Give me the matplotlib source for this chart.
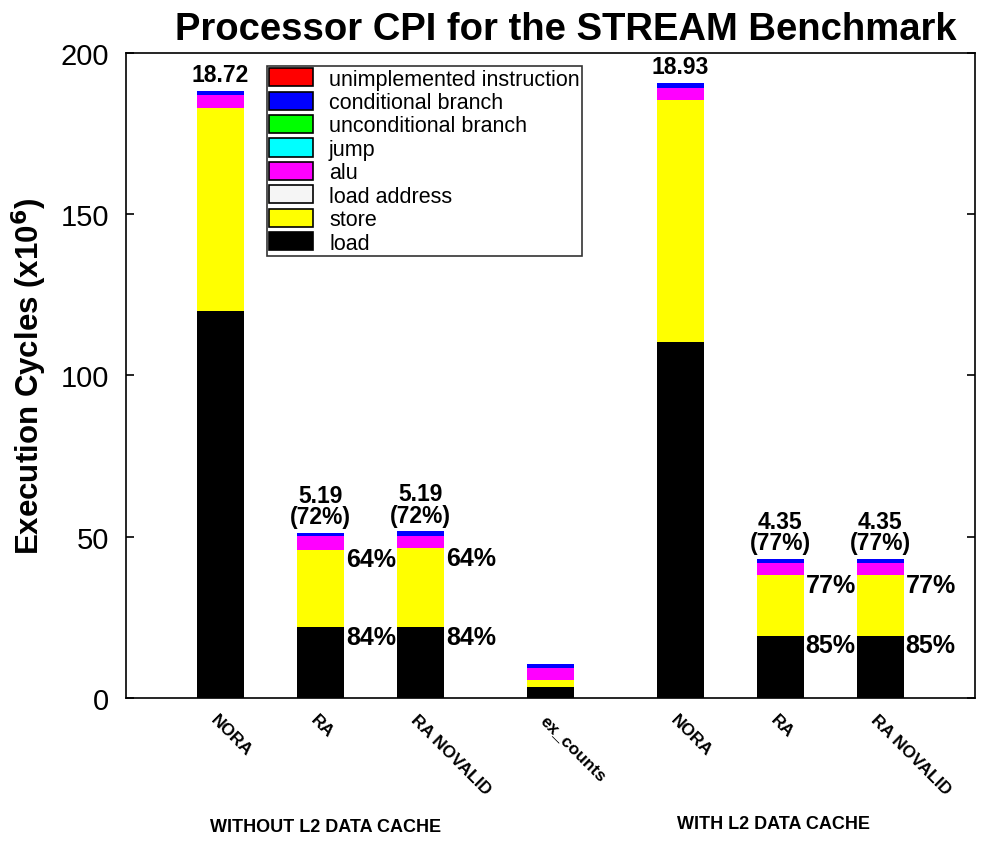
import numpy as np
import matplotlib.pyplot as plt

plt.rcParams['font.family'] = ['Liberation Sans', 'DejaVu Sans']

# bar labels and positions along the x axis
labels = ['NORA', 'RA', 'RA NOVALID', 'ex_counts', 'NORA', 'RA', 'RA NOVALID']
xpos = [0, 1, 2, 3.3, 4.6, 5.6, 6.6]

# segment heights (x10^6 cycles), bottom to top
load = [120, 22, 22, 3.5, 110.5, 19.3, 19.3]
store = [63, 24, 24.5, 1.9, 75, 18.7, 18.7]
load_address = [0, 0, 0, 0, 0, 0, 0]
alu = [4, 4.2, 3.7, 3.9, 3.6, 3.9, 3.9]
jump = [0, 0, 0, 0, 0, 0, 0]
uncond_branch = [0, 0, 0, 0, 0, 0, 0]
cond_branch = [1.3, 1.0, 1.4, 1.2, 1.7, 1.3, 1.3]
unimpl = [0, 0, 0, 0, 0, 0, 0]

series = [
    ('load', load, 'black'),
    ('store', store, 'yellow'),
    ('load address', load_address, 'whitesmoke'),
    ('alu', alu, 'magenta'),
    ('jump', jump, 'cyan'),
    ('unconditional branch', uncond_branch, 'lime'),
    ('conditional branch', cond_branch, 'blue'),
    ('unimplemented instruction', unimpl, 'red'),
]

# annotations
top_labels = ['18.72', '5.19\n(72%)', '5.19\n(72%)', '', '18.93', '4.35\n(77%)', '4.35\n(77%)']
store_pct = ['', '64%', '64%', '', '', '77%', '77%']
load_pct = ['', '84%', '84%', '', '', '85%', '85%']

fig = plt.figure(figsize=(9.81, 8.45), dpi=100)
ax = fig.add_axes([0.128, 0.173, 0.866, 0.763])

width = 0.47
bottom = np.zeros(len(xpos))
for name, vals, color in series:
    vals = np.array(vals, dtype=float)
    ax.bar(xpos, vals, width, bottom=bottom, color=color, linewidth=0)
    bottom += vals

for i, x in enumerate(xpos):
    if top_labels[i]:
        ax.text(x, bottom[i] + 1.5, top_labels[i], ha='center', va='bottom',
                fontsize=16.5, fontweight='bold', linespacing=0.9)
    if store_pct[i]:
        ax.text(x + width / 2 + 0.02, load[i] + store[i] - 3, store_pct[i],
                ha='left', va='center', fontsize=18, fontweight='bold')
        ax.text(x + width / 2 + 0.02, load[i] - 3, load_pct[i],
                ha='left', va='center', fontsize=18, fontweight='bold')

ax.set_xlim(-0.95, 7.55)
ax.set_ylim(0, 200)
ax.set_yticks([0, 50, 100, 150, 200])
ax.tick_params(axis='y', direction='in', right=True, labelsize=21, length=6, width=1.2, pad=12)
ax.set_xticks(xpos)
ax.set_xticklabels([])
ax.tick_params(axis='x', length=0)
for x, lab in zip(xpos, labels):
    ax.text(x - 0.07, -6, lab, rotation=-45, rotation_mode='anchor',
            ha='left', va='center', fontsize=12.5, fontweight='bold')

for s in ax.spines.values():
    s.set_linewidth(1.2)

ax.set_ylabel('Execution Cycles (x10$^{\\mathbf{6}}$)', fontsize=22.5, fontweight='bold', labelpad=8)
ax.set_title('Processor CPI for the STREAM Benchmark', fontsize=27.5, fontweight='bold',
             pad=10, x=0.518)

ax.text(1.05, -40, 'WITHOUT L2 DATA CACHE', ha='center', va='center', fontsize=13, fontweight='bold')
ax.text(5.53, -39, 'WITH L2 DATA CACHE', ha='center', va='center', fontsize=13, fontweight='bold')

order = ['unimplemented instruction', 'conditional branch', 'unconditional branch',
         'jump', 'alu', 'load address', 'store', 'load']
colors = {n: c for n, _, c in series}
patches = [plt.Rectangle((0, 0), 1, 1, facecolor=colors[n], edgecolor='black', linewidth=1.2)
           for n in order]
leg = ax.legend(patches, order, loc='upper left', bbox_to_anchor=(0.166, 0.98),
                fontsize=15.5, frameon=True, fancybox=False, edgecolor='black',
                labelspacing=0.09, handlelength=2.05, handleheight=0.92,
                handletextpad=0.75, borderpad=0.1, borderaxespad=0)
leg.get_frame().set_linewidth(1.2)

fig.savefig('out.png', dpi=100)
